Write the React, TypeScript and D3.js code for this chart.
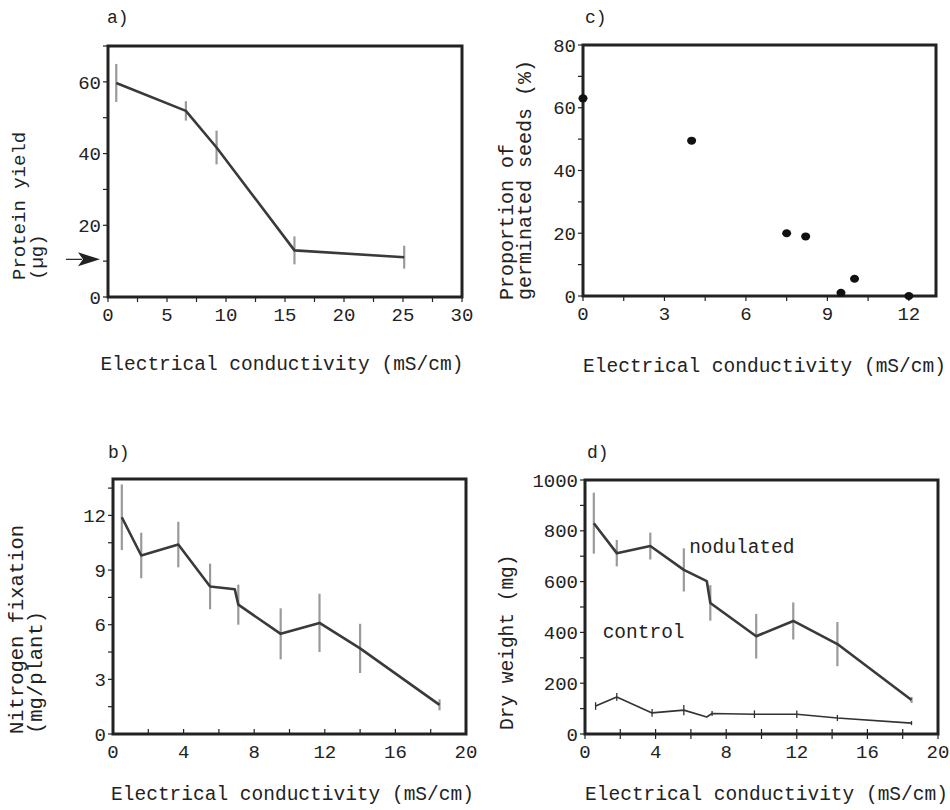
import React from "react";
import * as d3 from "d3";

// ---------- Panel a: protein yield ----------
const aX = [0.7, 6.6, 9.2, 15.8, 25.1];
const aY = [59.7, 51.9, 41.7, 13.0, 11.1];
const aErr = [5.3, 2.7, 4.7, 3.9, 3.2];
const aArrowValue = 10.5;
const aXTicks = [0, 5, 10, 15, 20, 25, 30];
const aYTicks = [0, 20, 40, 60];

// ---------- Panel c: germinated seeds ----------
const cX = [0, 4, 7.5, 8.2, 9.5, 10, 12];
const cY = [63, 49.5, 20, 19, 1, 5.5, 0];
const cXTicks = [0, 3, 6, 9, 12];
const cYTicks = [0, 20, 40, 60, 80];

// ---------- Panel b: nitrogen fixation ----------
const bX = [0.5, 1.6, 3.7, 5.5, 6.9, 7.1, 9.5, 11.7, 14, 18.5];
const bY = [11.9, 9.8, 10.4, 8.1, 7.95, 7.1, 5.5, 6.1, 4.7, 1.6];
const bErr = [1.8, 1.25, 1.25, 1.25, 0, 1.1, 1.4, 1.6, 1.35, 0.3];
const bXTicks = [0, 4, 8, 12, 16, 20];
const bYTicks = [0, 3, 6, 9, 12];

// ---------- Panel d: dry weight ----------
const dNodX = [0.5, 1.8, 3.7, 5.6, 6.9, 7.1, 9.7, 11.8, 14.3, 18.5];
const dNodY = [830, 712, 740, 646, 602, 516, 385, 445, 354, 134];
const dNodErr = [120, 52, 53, 85, 0, 70, 88, 73, 87, 12];
const dCtrlX = [0.6, 1.8, 3.8, 5.6, 6.9, 7.2, 9.6, 12, 14.3, 18.5];
const dCtrlY = [110, 146, 83, 94, 67, 81, 78, 78, 63, 43];
const dCtrlErr = [15, 15, 15, 20, 0, 10, 15, 15, 12, 8];
const dXTicks = [0, 4, 8, 12, 16, 20];
const dYTicks = [0, 200, 400, 600, 800, 1000];

const FONT = "'Liberation Mono', 'DejaVu Sans Mono', monospace";
const INK = "#222";

type Box = { x0: number; x1: number; y0: number; y1: number };

function Frame({
  box, xs, ys, xTicks, xMinorStep, yTicks, yMinorStep, xTickDir, tickFont,
}: {
  box: Box; xs: any; ys: any; xTicks: number[]; xMinorStep: number;
  yTicks: number[]; yMinorStep: number; xTickDir: "out" | "in" | "cross"; tickFont: number;
}) {
  const xd = xs.domain();
  const yd = ys.domain();
  const xMinor = d3.range(xd[0], xd[1] + 1e-9, xMinorStep);
  const yMinor = d3.range(yd[0], yd[1] + 1e-9, yMinorStep);
  const tUp = xTickDir === "out" ? 0 : 5;
  const tDown = xTickDir === "in" ? 0 : 5;
  return (
    <g>
      {xMinor.map((v, i) => (
        <line key={"xm" + i} x1={xs(v)} x2={xs(v)} y1={box.y1 - tUp} y2={box.y1 + tDown}
          stroke={INK} strokeWidth={1.2} />
      ))}
      {yMinor.map((v, i) => (
        <line key={"ym" + i} x1={box.x0 - 5} x2={box.x0} y1={ys(v)} y2={ys(v)}
          stroke={INK} strokeWidth={1.2} />
      ))}
      {xTicks.map((v, i) => (
        <text key={"xt" + i} x={xs(v)} y={box.y1 + 24} textAnchor="middle"
          fontFamily={FONT} fontSize={tickFont} fill={INK}>{v}</text>
      ))}
      {yTicks.map((v, i) => (
        <text key={"yt" + i} x={box.x0 - 7} y={ys(v)} dy="0.35em" textAnchor="end"
          fontFamily={FONT} fontSize={tickFont} fill={INK}>{v}</text>
      ))}
      <rect x={box.x0} y={box.y0} width={box.x1 - box.x0} height={box.y1 - box.y0}
        fill="none" stroke={INK} strokeWidth={3} />
    </g>
  );
}

function ErrorBars({ xs, ys, X, Y, E, color, width }: any) {
  return (
    <g>
      {X.map((x: number, i: number) =>
        E[i] > 0 ? (
          <line key={i} x1={xs(x)} x2={xs(x)} y1={ys(Y[i] - E[i])} y2={ys(Y[i] + E[i])}
            stroke={color} strokeWidth={width} />
        ) : null
      )}
    </g>
  );
}

function Series({ xs, ys, X, Y, color, width }: any) {
  const line = d3.line<number>().x((_, i) => xs(X[i])).y((d) => ys(d));
  return <path d={line(Y) || ""} fill="none" stroke={color} strokeWidth={width} strokeLinejoin="round" />;
}

function YLabel({ lines, x, yStart, size }: { lines: string[]; x: number[]; yStart: number; size: number }) {
  return (
    <g>
      {lines.map((t, i) => (
        <text key={i} transform={`translate(${x[i]},${yStart}) rotate(-90)`} textAnchor="start"
          fontFamily={FONT} fontSize={size} fill={INK}>{t}</text>
      ))}
    </g>
  );
}

export default function App() {
  // Panel a
  const aBox: Box = { x0: 108, x1: 462, y0: 46, y1: 297 };
  const axs = d3.scaleLinear().domain([0, 30]).range([aBox.x0, aBox.x1]);
  const ays = d3.scaleLinear().domain([0, 70]).range([aBox.y1, aBox.y0]);
  // Panel c
  const cBox: Box = { x0: 583, x1: 936, y0: 45, y1: 296 };
  const cxs = d3.scaleLinear().domain([0, 13]).range([cBox.x0, cBox.x1]);
  const cys = d3.scaleLinear().domain([0, 80]).range([cBox.y1, cBox.y0]);
  // Panel b
  const bBox: Box = { x0: 113, x1: 466, y0: 479, y1: 734 };
  const bxs = d3.scaleLinear().domain([0, 20]).range([bBox.x0, bBox.x1]);
  const bys = d3.scaleLinear().domain([0, 14]).range([bBox.y1, bBox.y0]);
  // Panel d
  const dBox: Box = { x0: 585, x1: 938, y0: 480, y1: 734 };
  const dxs = d3.scaleLinear().domain([0, 20]).range([dBox.x0, dBox.x1]);
  const dys = d3.scaleLinear().domain([0, 1000]).range([dBox.y1, dBox.y0]);

  const tickFont = 19;
  const xLabFont = 19.5;
  const xLabel = "Electrical conductivity (mS/cm)";
  const arrowY = ays(aArrowValue);

  return (
    <svg width={950} height={810} style={{ position: "absolute", left: 0, top: 0, background: "#fff" }}>
      <rect x={0} y={0} width={950} height={810} fill="#fff" />

      {/* ---------- a ---------- */}
      <text x={107} y={23} fontFamily={FONT} fontSize={18} fill={INK}>a)</text>
      <Frame box={aBox} xs={axs} ys={ays} xTicks={aXTicks} xMinorStep={2.5} yTicks={aYTicks}
        yMinorStep={10} xTickDir="out" tickFont={tickFont} />
      <ErrorBars xs={axs} ys={ays} X={aX} Y={aY} E={aErr} color="#9a9a9a" width={2.2} />
      <Series xs={axs} ys={ays} X={aX} Y={aY} color="#3a3a3a" width={2.6} />
      <line x1={66} x2={82} y1={arrowY} y2={arrowY} stroke={INK} strokeWidth={1.2} />
      <path d={`M${aBox.x0 - 8},${arrowY} L${aBox.x0 - 30},${arrowY - 7} L${aBox.x0 - 25},${arrowY} L${aBox.x0 - 30},${arrowY + 7} Z`} fill={INK} />
      <YLabel lines={["Protein yield", "(µg)"]} x={[25, 43]} yStart={280} size={19} />
      <text x={(aBox.x0 + aBox.x1) / 2 - 3} y={370} textAnchor="middle" fontFamily={FONT}
        fontSize={xLabFont} fill={INK}>{xLabel}</text>

      {/* ---------- c ---------- */}
      <text x={585} y={23} fontFamily={FONT} fontSize={18} fill={INK}>c)</text>
      <Frame box={cBox} xs={cxs} ys={cys} xTicks={cXTicks} xMinorStep={1.5} yTicks={cYTicks}
        yMinorStep={10} xTickDir="out" tickFont={tickFont} />
      {cX.map((x, i) => (
        <ellipse key={i} cx={cxs(x)} cy={cys(cY[i])} rx={4.5} ry={4} fill="#111" />
      ))}
      <YLabel lines={["Proportion of", "germinated seeds (%)"]} x={[513, 531]} yStart={300} size={20} />
      <text x={(cBox.x0 + cBox.x1) / 2 + 5} y={372} textAnchor="middle" fontFamily={FONT}
        fontSize={xLabFont} fill={INK}>{xLabel}</text>

      {/* ---------- b ---------- */}
      <text x={108} y={458} fontFamily={FONT} fontSize={18} fill={INK}>b)</text>
      <Frame box={bBox} xs={bxs} ys={bys} xTicks={bXTicks} xMinorStep={2} yTicks={bYTicks}
        yMinorStep={1.5} xTickDir="in" tickFont={tickFont} />
      <ErrorBars xs={bxs} ys={bys} X={bX} Y={bY} E={bErr} color="#9a9a9a" width={2.2} />
      <Series xs={bxs} ys={bys} X={bX} Y={bY} color="#3a3a3a" width={2.6} />
      <YLabel lines={["Nitrogen fixation", "(mg/plant)"]} x={[23, 42]} yStart={734} size={20.5} />
      <text x={(bBox.x0 + bBox.x1) / 2 + 3} y={800} textAnchor="middle" fontFamily={FONT}
        fontSize={xLabFont} fill={INK}>{xLabel}</text>

      {/* ---------- d ---------- */}
      <text x={587} y={458} fontFamily={FONT} fontSize={18} fill={INK}>d)</text>
      <Frame box={dBox} xs={dxs} ys={dys} xTicks={dXTicks} xMinorStep={2} yTicks={dYTicks}
        yMinorStep={100} xTickDir="cross" tickFont={tickFont} />
      <ErrorBars xs={dxs} ys={dys} X={dNodX} Y={dNodY} E={dNodErr} color="#9a9a9a" width={2.2} />
      <Series xs={dxs} ys={dys} X={dNodX} Y={dNodY} color="#3a3a3a" width={2.6} />
      <ErrorBars xs={dxs} ys={dys} X={dCtrlX} Y={dCtrlY} E={dCtrlErr} color="#333" width={1.3} />
      <Series xs={dxs} ys={dys} X={dCtrlX} Y={dCtrlY} color="#333" width={1.6} />
      <text x={dxs(5.9)} y={dys(713)} fontFamily={FONT} fontSize={19.5} fill={INK}>nodulated</text>
      <text x={dxs(1.0)} y={dys(376)} fontFamily={FONT} fontSize={19.5} fill={INK}>control</text>
      <YLabel lines={["Dry weight (mg)"]} x={[513]} yStart={730} size={19.5} />
      <text x={(dBox.x0 + dBox.x1) / 2 + 5} y={800} textAnchor="middle" fontFamily={FONT}
        fontSize={xLabFont} fill={INK}>{xLabel}</text>
    </svg>
  );
}
